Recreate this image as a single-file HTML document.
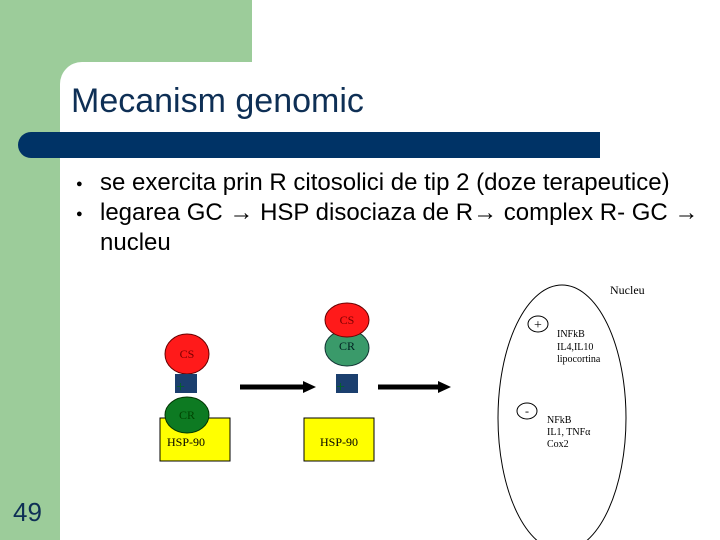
<!DOCTYPE html>
<html><head><style>
body{margin:0;width:720px;height:540px;position:relative;background:#fff;overflow:hidden;font-family:"Liberation Sans",sans-serif}
.a{position:absolute}
</style></head><body>
<div class="a" style="left:0;top:0;width:252px;height:92px;background:#9ccc9a"></div>
<div class="a" style="left:0;top:0;width:60px;height:540px;background:#9ccc9a"></div>
<div class="a" style="left:60px;top:62px;width:300px;height:60px;background:#fff;border-top-left-radius:22px"></div>
<div class="a" style="left:18px;top:132px;width:582px;height:26px;background:#003366;border-radius:13px 0 0 13px"></div>
<div class="a" style="left:71px;top:81px;font-size:34px;line-height:40px;color:#0e2f55">Mecanism genomic</div>
<div class="a" style="left:72px;top:168px;font-size:24px;line-height:30px;color:#000;width:640px">
<div style="position:relative;padding-left:28px"><span style="position:absolute;left:4px;top:1px;font-size:11px">●</span>se exercita prin R citosolici de tip 2 (doze terapeutice)</div>
<div style="position:relative;padding-left:28px"><span style="position:absolute;left:4px;top:1px;font-size:11px">●</span>legarea GC → HSP disociaza de R→ complex R- GC → nucleu</div>
</div>
<div class="a" style="left:13px;top:497px;font-size:26px;color:#0e2f55">49</div>
<svg class="a" style="left:0;top:0" width="720" height="540" font-family="Liberation Serif,serif" font-size="12">
<rect x="160" y="418" width="70" height="43" fill="#ffff00" stroke="#000"/>
<text x="186" y="446" text-anchor="middle">HSP-90</text>
<ellipse cx="187" cy="354" rx="22" ry="20" fill="#ff1a1a" stroke="#600"/>
<text x="187" y="358" text-anchor="middle" fill="#700">CS</text>
<rect x="175" y="374" width="22" height="19" fill="#1b3f6e"/>
<text x="176" y="392" font-size="16" fill="#062">+</text>
<ellipse cx="187" cy="415" rx="22" ry="18" fill="#0d7a22" stroke="#030"/>
<text x="187" y="419" text-anchor="middle" fill="#040">CR</text>
<rect x="304" y="418" width="70" height="43" fill="#ffff00" stroke="#000"/>
<text x="339" y="446" text-anchor="middle">HSP-90</text>
<ellipse cx="347" cy="348" rx="22" ry="18" fill="#3a9a6a" stroke="#133"/>
<text x="347" y="350" text-anchor="middle" fill="#022">CR</text>
<ellipse cx="347" cy="320" rx="22" ry="17" fill="#ff1a1a" stroke="#600"/>
<text x="347" y="324" text-anchor="middle" fill="#700">CS</text>
<rect x="336" y="374" width="22" height="19" fill="#1b3f6e"/>
<text x="336" y="392" font-size="16" fill="#062">+</text>
<line x1="240" y1="387" x2="305" y2="387" stroke="#000" stroke-width="5"/>
<polygon points="303,381 316,387 303,393" fill="#000"/>
<line x1="378" y1="387" x2="440" y2="387" stroke="#000" stroke-width="5"/>
<polygon points="438,381 451,387 438,393" fill="#000"/>
<ellipse cx="562" cy="418" rx="64" ry="133" fill="none" stroke="#000"/>
<text x="610" y="294" font-size="12">Nucleu</text>
<ellipse cx="538" cy="324" rx="10" ry="8" fill="#fff" stroke="#000"/>
<text x="538" y="329" text-anchor="middle" font-size="14">+</text>
<ellipse cx="527" cy="411" rx="10" ry="8" fill="#fff" stroke="#000"/>
<text x="527" y="415" text-anchor="middle" font-size="12">-</text>
<g font-size="10"><text x="557" y="337">INFkB</text><text x="557" y="350">IL4,IL10</text><text x="557" y="362">lipocortina</text>
<text x="547" y="423">NFkB</text><text x="547" y="435">IL1, TNFα</text><text x="547" y="447">Cox2</text></g>
</svg>
</body></html>
